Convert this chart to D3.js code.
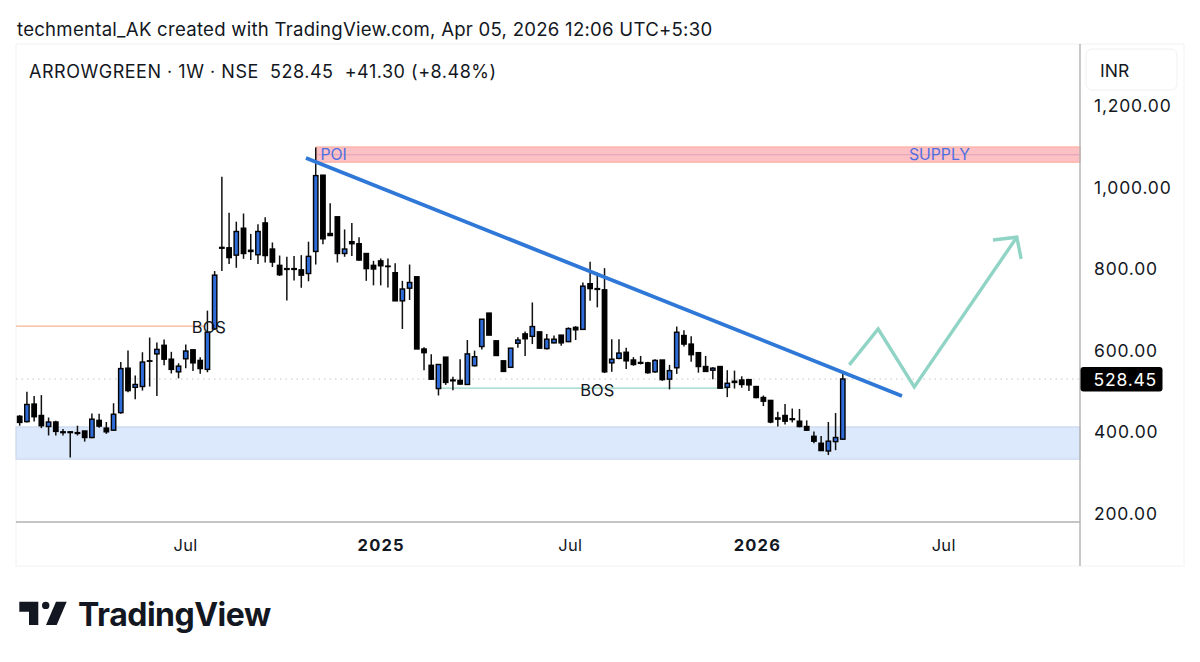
<!DOCTYPE html>
<html lang="en">
<head>
  <meta charset="UTF-8">
  <title>ARROWGREEN 1W</title>
  <script src="https://d3js.org/d3.v7.min.js"></script>
  <style>
    body { margin: 0; background: #fff; }
    svg { display: block; font-family: Inter, "Noto Sans", sans-serif; }
    .tick line, .domain { display: none; }
  </style>
</head>
<body>
  <div id="viz"></div>

  <script>
    // weekly candles
    const opens = [437,424,467,439,412,423,399,399,397,401,385,427,408,403,446,555,508,510,573,590,611,577,546,578,600,574,552,651,
      851,850,832,898,844,833,911,847,807,799,799,796,787,841,1028,885,926,836,865,860,836,807,818,805,789,720,751,779,602,562,505,582,
      526,525,515,561,608,690,622,573,557,616,639,633,644,603,617,636,620,655,650,762,750,747,568,579,594,575,569,568,546,575,
      528,556,635,614,593,559,550,559,508,523,526,527,510,483,476,433,439,431,425,412,388,371,352,375,381];
    const highs = [440,497,487,489,434,426,406,401,414,401,444,443,423,469,570,598,537,594,630,618,625,595,567,613,600,582,696,793,
      1024,936,914,934,884,908,925,863,831,828,830,832,865,1096,1028,959,926,895,911,876,836,818,824,824,812,769,809,779,606,589,564,582,
      534,577,624,598,675,690,622,573,604,631,645,716,644,639,635,636,655,658,765,816,789,800,626,626,605,582,585,571,577,575,
      563,657,648,633,593,585,557,559,550,549,535,527,511,488,476,448,467,456,455,427,400,389,423,445,546];
    const lows = [414,422,424,408,390,390,390,336,390,375,383,409,394,402,443,496,479,500,510,487,562,542,530,555,548,541,545,649,
      793,810,801,823,820,810,814,803,781,721,770,752,768,809,859,879,814,828,830,818,769,758,758,753,720,651,722,602,550,526,488,514,
      501,515,514,559,601,636,586,547,556,605,585,614,603,601,616,610,619,624,650,720,704,543,546,577,553,561,564,541,544,524,
      503,541,608,571,544,546,528,506,484,505,507,499,481,462,420,412,417,422,410,401,371,353,342,354,379];
    const closes = [422,466,436,414,423,400,397,397,395,385,430,413,399,442,554,500,515,570,572,601,577,552,560,597,568,554,643,783,
      849,826,890,836,841,890,831,815,784,797,797,783,829,1027,872,880,836,847,860,820,799,798,806,804,720,749,765,602,593,528,564,520,
      524,516,590,583,675,636,586,547,604,624,627,657,604,626,626,617,652,649,756,750,748,546,577,592,573,564,567,544,574,527,
      549,643,614,588,559,547,555,506,518,520,515,514,483,474,423,430,425,429,412,403,376,353,376,385,528.45];

    const priceTicks = [200, 400, 600, 800, 1000, 1200];
    const timeTicks = [22.9, 50, 76.2, 102.1, 127.9];
    const timeLabels = ['Jul', '2025', 'Jul', '2026', 'Jul'];
    const boldLabels = ['2025', '2026'];

    const lastPrice = 528.45;
    const supplyZone = [1097, 1060];
    const supplyMid = 1078;
    const supplyStart = 41.1;
    const demandZone = [411, 332];
    const orangeLevel = { price: 658, from: -0.5, to: 25.7 };
    const greenLevel = { price: 506, from: 58.2, to: 98.2 };
    const trendLine = [[39.65, 1070], [122.2, 487]];
    const projection = [[114.9, 563], [118.9, 651], [123.9, 509], [138.1, 876]];
    const arrowHead = [[134.8, 869], [138.1, 876], [138.7, 823]];
    const bosLabels = [{ idx: 26.2, price: 656 }, { idx: 80, price: 500 }];

    const svg = d3.select('#viz').append('svg')
      .attr('width', 1200)
      .attr('height', 662);

    const plotLeft = 16, plotRight = 1080, plotTop = 44, plotBottom = 522;

    const x = d3.scaleLinear().domain([0, 114]).range([19.7, 842.8]);
    const y = d3.scaleLinear().domain([200, 1200]).range([513, 105]);

    const ink = '#131722';
    const upColor = '#2f6cd8';

    // panel frame
    svg.append('rect')
      .attr('x', plotLeft).attr('y', plotTop)
      .attr('width', 1168).attr('height', 522)
      .attr('fill', 'none').attr('stroke', '#f2f2f2');

    // zones
    svg.append('rect')
      .attr('x', plotLeft).attr('width', plotRight - plotLeft)
      .attr('y', y(demandZone[0])).attr('height', y(demandZone[1]) - y(demandZone[0]))
      .attr('fill', '#dce8fb').attr('stroke', '#c6d4e8').attr('stroke-width', 1);

    svg.append('rect')
      .attr('x', x(supplyStart)).attr('width', plotRight - x(supplyStart))
      .attr('y', y(supplyZone[0])).attr('height', y(supplyZone[1]) - y(supplyZone[0]))
      .attr('fill', '#fdc0c5').attr('stroke', '#fcb4a6').attr('stroke-width', 1.4);
    svg.append('line')
      .attr('x1', x(supplyStart)).attr('x2', plotRight)
      .attr('y1', y(supplyMid)).attr('y2', y(supplyMid))
      .attr('stroke', '#d9a4b4').attr('stroke-width', 1);

    // last price dotted line
    svg.append('line')
      .attr('x1', plotLeft).attr('x2', plotRight)
      .attr('y1', y(lastPrice)).attr('y2', y(lastPrice))
      .attr('stroke', '#c4c4c4').attr('stroke-width', 1.2)
      .attr('stroke-dasharray', '1.5 4');

    // horizontal levels
    svg.append('line')
      .attr('x1', x(orangeLevel.from)).attr('x2', x(orangeLevel.to))
      .attr('y1', y(orangeLevel.price)).attr('y2', y(orangeLevel.price))
      .attr('stroke', '#f7b48f').attr('stroke-width', 1.3);
    svg.append('line')
      .attr('x1', x(greenLevel.from)).attr('x2', x(greenLevel.to))
      .attr('y1', y(greenLevel.price)).attr('y2', y(greenLevel.price))
      .attr('stroke', '#93d5c5').attr('stroke-width', 1.3);

    // candles
    const candles = svg.append('g')
      .selectAll('g')
      .data(opens)
      .join('g');

    candles.append('line')
      .attr('x1', (d, i) => x(i)).attr('x2', (d, i) => x(i))
      .attr('y1', (d, i) => y(highs[i])).attr('y2', (d, i) => y(lows[i]))
      .attr('stroke', '#111').attr('stroke-width', 1.5);

    candles.append('rect')
      .attr('x', (d, i) => x(i) - 2.2)
      .attr('width', 4.4)
      .attr('y', (d, i) => y(Math.max(opens[i], closes[i])))
      .attr('height', (d, i) => Math.abs(y(opens[i]) - y(closes[i])))
      .attr('fill', (d, i) => closes[i] >= opens[i] ? upColor : '#000')
      .attr('stroke', '#000').attr('stroke-width', 1.4);

    // trend line and projected path
    const line = d3.line().x(d => x(d[0])).y(d => y(d[1]));

    svg.append('path')
      .attr('d', line(trendLine))
      .attr('fill', 'none').attr('stroke', '#2f78d8').attr('stroke-width', 3.8);

    [projection, arrowHead].forEach(pts => {
      svg.append('path')
        .attr('d', line(pts))
        .attr('fill', 'none').attr('stroke', '#90d4c6').attr('stroke-width', 3.4);
    });

    // zone and level labels
    svg.append('text')
      .attr('x', x(supplyStart) + 4).attr('y', y(1078))
      .attr('dy', '0.35em').attr('font-size', 15.8).attr('fill', '#4f6fe0')
      .text('POI');
    svg.append('text')
      .attr('x', 939.5).attr('y', y(1078))
      .attr('dy', '0.35em').attr('text-anchor', 'middle')
      .attr('font-size', 15.8).attr('fill', '#4f6fe0')
      .text('SUPPLY');

    svg.selectAll('.bos')
      .data(bosLabels)
      .join('text')
      .attr('class', 'bos')
      .attr('x', d => x(d.idx)).attr('y', d => y(d.price))
      .attr('dy', '0.35em').attr('text-anchor', 'middle')
      .attr('font-size', 16.5).attr('fill', ink)
      .text('BOS');

    // axes
    svg.append('line')
      .attr('x1', plotRight).attr('x2', plotRight).attr('y1', plotTop).attr('y2', 566)
      .attr('stroke', '#b2b2b2').attr('stroke-width', 1.4);
    svg.append('line')
      .attr('x1', plotLeft).attr('x2', plotRight).attr('y1', plotBottom).attr('y2', plotBottom)
      .attr('stroke', '#b2b2b2').attr('stroke-width', 1.4);

    const yAxis = d3.axisRight(y)
      .tickValues(priceTicks)
      .tickSize(0)
      .tickFormat(d3.format(',.2f'));
    svg.append('g')
      .attr('transform', `translate(${1094},0.8)`)
      .call(yAxis)
      .selectAll('text')
      .attr('x', 0)
      .attr('font-family', 'Inter')
      .attr('letter-spacing', 0.8)
      .attr('font-size', 17.5).attr('fill', ink);

    const xAxis = d3.axisBottom(x)
      .tickValues(timeTicks)
      .tickSize(0)
      .tickFormat((d, i) => timeLabels[i]);
    svg.append('g')
      .attr('transform', `translate(0,${plotBottom})`)
      .call(xAxis)
      .selectAll('text')
      .attr('y', 23)
      .attr('dy', '0.35em')
      .attr('font-family', 'Inter')
      .attr('font-size', 16.5).attr('fill', ink)
      .attr('letter-spacing', (d, i) => boldLabels.includes(timeLabels[i]) ? 1.2 : 0.3)
      .attr('font-weight', (d, i) => boldLabels.includes(timeLabels[i]) ? 700 : 400);

    // currency box
    svg.append('rect')
      .attr('x', 1086).attr('y', 49)
      .attr('width', 91).attr('height', 41).attr('rx', 6)
      .attr('fill', '#fff').attr('stroke', '#f0f0f0');
    svg.append('text')
      .attr('x', 1100).attr('y', 71)
      .attr('dy', '0.35em').attr('font-size', 17.5).attr('fill', ink)
      .text('INR');

    // last price tag
    svg.append('rect')
      .attr('x', 1080.5).attr('y', y(lastPrice) - 12)
      .attr('width', 82).attr('height', 24.5).attr('rx', 3)
      .attr('fill', '#000');
    svg.append('text')
      .attr('x', 1093.5).attr('y', y(lastPrice) + 0.5)
      .attr('dy', '0.35em').attr('font-size', 17.5).attr('fill', '#fff')
      .attr('letter-spacing', 0.8)
      .text(d3.format('.2f')(lastPrice));

    // titles
    svg.append('text')
      .attr('x', 17).attr('y', 29)
      .attr('dy', '0.35em').attr('font-size', 18.6).attr('fill', ink)
      .attr('letter-spacing', 0.25)
      .text('techmental_AK created with TradingView.com, Apr 05, 2026 12:06 UTC+5:30');
    svg.append('text')
      .attr('x', 29).attr('y', 71.5)
      .attr('dy', '0.35em').attr('font-size', 18).attr('fill', ink)
      .attr('letter-spacing', 0.52)
      .attr('xml:space', 'preserve')
      .text('ARROWGREEN · 1W · NSE  528.45  +41.30 (+8.48%)');

    // TradingView logo
    const logo = svg.append('g').attr('fill', '#131722');
    logo.append('path').attr('d', 'M19.3 601.7H38.3V625H29V611.7H19.3Z');
    logo.append('circle').attr('cx', 45.7).attr('cy', 605.4).attr('r', 3.7);
    logo.append('path').attr('d', 'M56 601.7H66.7L56.7 625H46Z');
    logo.append('text')
      .attr('x', 78).attr('y', 615)
      .attr('dy', '0.35em').attr('font-size', 32).attr('font-weight', 700)
      .attr('letter-spacing', -0.5)
      .text('TradingView');
  </script>
</body>
</html>
